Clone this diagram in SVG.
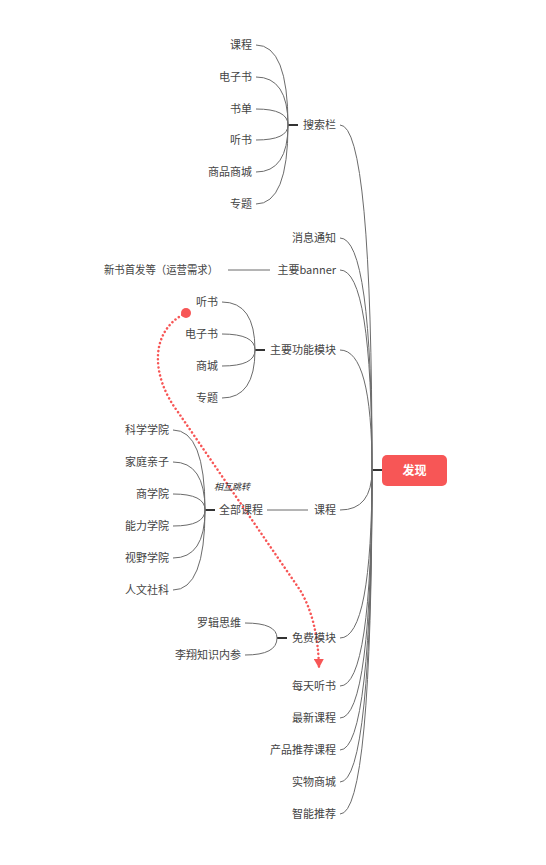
<svg xmlns="http://www.w3.org/2000/svg" width="546" height="865" viewBox="0 0 546 865">
<style>
text{font-family:"Noto Sans CJK SC","Noto Sans",sans-serif;font-size:11px;fill:#444}
.r{text-anchor:end}
.c{fill:none;stroke:#6b6b6b;stroke-width:1}
.j{stroke:#333;stroke-width:2}
.lbl{font-size:9px;font-style:italic;fill:#333}
</style>
<defs>
<marker id="ah" markerWidth="10" markerHeight="10" refX="9" refY="5" orient="auto" markerUnits="userSpaceOnUse" viewBox="0 0 10 10">
<path d="M0,0 L9,5 L0,10 Z" fill="#f75656"/>
</marker>
</defs>
<rect width="546" height="865" fill="#fff"/>
<g id="connectors">
<line class="j" x1="372" y1="470" x2="382" y2="470"/>
<path class="c" d="M340,125 Q372,125 372,470"/>
<path class="c" d="M340,238 Q372,238 372,470"/>
<path class="c" d="M340,270 Q372,270 372,470"/>
<path class="c" d="M340,350 Q372,350 372,470"/>
<path class="c" d="M340,510 Q372,510 372,470"/>
<path class="c" d="M340,638 Q372,638 372,470"/>
<path class="c" d="M340,686 Q372,686 372,470"/>
<path class="c" d="M340,718 Q372,718 372,470"/>
<path class="c" d="M340,750 Q372,750 372,470"/>
<path class="c" d="M340,782 Q372,782 372,470"/>
<path class="c" d="M340,814 Q372,814 372,470"/>
<line class="j" x1="288" y1="125" x2="298" y2="125"/>
<path class="c" d="M256,45 Q288,45 288,125"/>
<path class="c" d="M256,77 Q288,77 288,125"/>
<path class="c" d="M256,109 Q288,109 288,125"/>
<path class="c" d="M256,140 Q288,140 288,125"/>
<path class="c" d="M256,172 Q288,172 288,125"/>
<path class="c" d="M256,204 Q288,204 288,125"/>
<line class="c" x1="228" y1="270" x2="270" y2="270"/>
<line class="j" x1="255" y1="350" x2="265" y2="350"/>
<path class="c" d="M222,302 Q255,302 255,350"/>
<path class="c" d="M222,334 Q255,334 255,350"/>
<path class="c" d="M222,366 Q255,366 255,350"/>
<path class="c" d="M222,398 Q255,398 255,350"/>
<line class="c" x1="267" y1="510" x2="308" y2="510"/>
<line class="j" x1="205" y1="510" x2="215" y2="510"/>
<path class="c" d="M173,430 Q205,430 205,510"/>
<path class="c" d="M173,462 Q205,462 205,510"/>
<path class="c" d="M173,494 Q205,494 205,510"/>
<path class="c" d="M173,526 Q205,526 205,510"/>
<path class="c" d="M173,558 Q205,558 205,510"/>
<path class="c" d="M173,590 Q205,590 205,510"/>
<line class="j" x1="277" y1="638" x2="287" y2="638"/>
<path class="c" d="M245,623 Q277,623 277,638"/>
<path class="c" d="M245,655 Q277,655 277,638"/>
<g id="jump">
<circle cx="186" cy="313" r="5" fill="#f75656"/>
<path d="M186,313 C150,330 150,375 178,412 L300,590 Q318,620 319,668" fill="none" stroke="#f75656" stroke-width="2.5" stroke-dasharray="0.1 4" stroke-linecap="round" marker-end="url(#ah)"/>
<text class="lbl" x="214" y="490">相互跳转</text>
</g>
</g>
<g id="root">
<rect x="382" y="455" width="65" height="31" rx="5" fill="#f75656"/>
<text x="414.5" y="474.5" text-anchor="middle" style="fill:#fff;font-size:12px;font-weight:bold">发现</text>
</g>
<g id="n-search"><text class="r" x="336" y="129">搜索栏</text></g>
<g id="n-msg"><text class="r" x="336" y="242">消息通知</text></g>
<g id="n-banner"><text class="r" x="336" y="274">主要banner</text></g>
<g id="n-func"><text class="r" x="336" y="354">主要功能模块</text></g>
<g id="n-course"><text class="r" x="336" y="514">课程</text></g>
<g id="n-free"><text class="r" x="336" y="642">免费模块</text></g>
<g id="n-daily"><text class="r" x="336" y="690">每天听书</text></g>
<g id="n-new"><text class="r" x="336" y="722">最新课程</text></g>
<g id="n-rec"><text class="r" x="336" y="754">产品推荐课程</text></g>
<g id="n-mall"><text class="r" x="336" y="786">实物商城</text></g>
<g id="n-smart"><text class="r" x="336" y="818">智能推荐</text></g>
<g id="s-1"><text class="r" x="252" y="49">课程</text></g>
<g id="s-2"><text class="r" x="252" y="81">电子书</text></g>
<g id="s-3"><text class="r" x="252" y="113">书单</text></g>
<g id="s-4"><text class="r" x="252" y="144">听书</text></g>
<g id="s-5"><text class="r" x="252" y="176">商品商城</text></g>
<g id="s-6"><text class="r" x="252" y="208">专题</text></g>
<g id="b-1"><text class="r" x="218" y="274" textLength="114" lengthAdjust="spacingAndGlyphs">新书首发等（运营需求）</text></g>
<g id="f-1"><text class="r" x="218" y="306">听书</text></g>
<g id="f-2"><text class="r" x="218" y="338">电子书</text></g>
<g id="f-3"><text class="r" x="218" y="370">商城</text></g>
<g id="f-4"><text class="r" x="218" y="402">专题</text></g>
<g id="c-all"><text class="r" x="263" y="514">全部课程</text></g>
<g id="a-1"><text class="r" x="169" y="434">科学学院</text></g>
<g id="a-2"><text class="r" x="169" y="466">家庭亲子</text></g>
<g id="a-3"><text class="r" x="169" y="498">商学院</text></g>
<g id="a-4"><text class="r" x="169" y="530">能力学院</text></g>
<g id="a-5"><text class="r" x="169" y="562">视野学院</text></g>
<g id="a-6"><text class="r" x="169" y="594">人文社科</text></g>
<g id="m-1"><text class="r" x="241" y="627">罗辑思维</text></g>
<g id="m-2"><text class="r" x="241" y="659">李翔知识内参</text></g>
</svg>
